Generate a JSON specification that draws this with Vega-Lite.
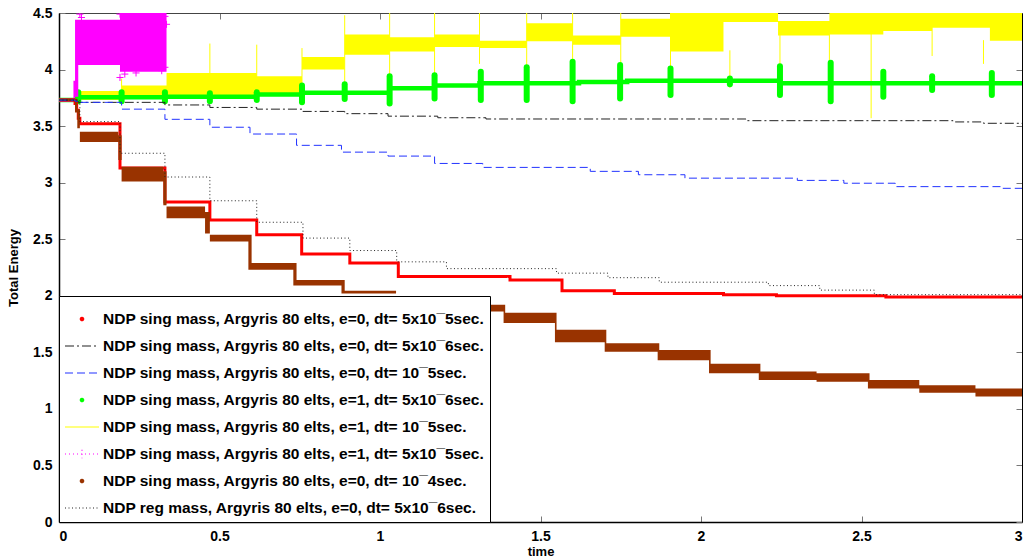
{
  "$schema": "https://vega.github.io/schema/vega-lite/v6.json",
  "width": 963,
  "height": 509,
  "autosize": {"type": "none"},
  "padding": {"left": 59, "top": 13, "right": 8, "bottom": 38},
  "background": "white",
  "config": {
    "view": {"stroke": null},
    "axis": {
      "grid": false,
      "labelFont": "Liberation Sans",
      "labelFontWeight": "bold",
      "labelFontSize": 14,
      "labelColor": "black",
      "titleFont": "Liberation Sans",
      "titleFontWeight": "bold",
      "titleFontSize": 13,
      "titleColor": "black",
      "domainColor": "black",
      "tickColor": "#777777",
      "tickSize": -6,
      "labelPadding": 13
    }
  },
  "datasets": {
    "lines": [
      {"s": "A", "x": 0, "y": 3.73}, {"s": "A", "x": 0.05, "y": 3.70}, {"s": "A", "x": 0.055, "y": 3.64}, {"s": "A", "x": 0.06, "y": 3.57}, {"s": "A", "x": 0.065, "y": 3.52},
      {"s": "A", "x": 0.19, "y": 3.13}, {"s": "A", "x": 0.33, "y": 2.83}, {"s": "A", "x": 0.47, "y": 2.67}, {"s": "A", "x": 0.616, "y": 2.54}, {"s": "A", "x": 0.756, "y": 2.37},
      {"s": "A", "x": 0.906, "y": 2.29}, {"s": "A", "x": 1.057, "y": 2.17}, {"s": "A", "x": 1.405, "y": 2.14}, {"s": "A", "x": 1.567, "y": 2.045}, {"s": "A", "x": 1.73, "y": 2.02},
      {"s": "A", "x": 2.07, "y": 2.01}, {"s": "A", "x": 2.235, "y": 2.0}, {"s": "A", "x": 2.576, "y": 1.99}, {"s": "A", "x": 3, "y": 1.985},

      {"s": "B", "x": 0, "y": 3.73}, {"s": "B", "x": 0.05, "y": 3.72}, {"s": "B", "x": 0.06, "y": 3.71}, {"s": "B", "x": 0.33, "y": 3.687}, {"s": "B", "x": 0.47, "y": 3.665},
      {"s": "B", "x": 0.616, "y": 3.65}, {"s": "B", "x": 0.757, "y": 3.63}, {"s": "B", "x": 0.89, "y": 3.61}, {"s": "B", "x": 1.025, "y": 3.588}, {"s": "B", "x": 1.18, "y": 3.574},
      {"s": "B", "x": 1.33, "y": 3.563}, {"s": "B", "x": 2.14, "y": 3.548}, {"s": "B", "x": 2.785, "y": 3.537}, {"s": "B", "x": 2.88, "y": 3.525}, {"s": "B", "x": 3, "y": 3.522},

      {"s": "C", "x": 0, "y": 3.73}, {"s": "C", "x": 0.05, "y": 3.72}, {"s": "C", "x": 0.06, "y": 3.71}, {"s": "C", "x": 0.195, "y": 3.65}, {"s": "C", "x": 0.33, "y": 3.56},
      {"s": "C", "x": 0.47, "y": 3.49}, {"s": "C", "x": 0.595, "y": 3.43}, {"s": "C", "x": 0.74, "y": 3.33}, {"s": "C", "x": 0.88, "y": 3.27}, {"s": "C", "x": 1.025, "y": 3.235},
      {"s": "C", "x": 1.17, "y": 3.17}, {"s": "C", "x": 1.32, "y": 3.135}, {"s": "C", "x": 1.655, "y": 3.10}, {"s": "C", "x": 1.805, "y": 3.07}, {"s": "C", "x": 1.95, "y": 3.04},
      {"s": "C", "x": 2.30, "y": 3.02}, {"s": "C", "x": 2.445, "y": 2.995}, {"s": "C", "x": 2.605, "y": 2.965}, {"s": "C", "x": 2.94, "y": 2.95}, {"s": "C", "x": 3, "y": 2.95},

      {"s": "D", "x": 0, "y": 3.73}, {"s": "D", "x": 0.055, "y": 3.755}, {"s": "D", "x": 0.33, "y": 3.76}, {"s": "D", "x": 0.616, "y": 3.78}, {"s": "D", "x": 0.757, "y": 3.795},
      {"s": "D", "x": 1.03, "y": 3.835}, {"s": "D", "x": 1.17, "y": 3.86}, {"s": "D", "x": 1.31, "y": 3.88}, {"s": "D", "x": 1.62, "y": 3.89}, {"s": "D", "x": 1.77, "y": 3.90},
      {"s": "D", "x": 2.246, "y": 3.88}, {"s": "D", "x": 3, "y": 3.875},

      {"s": "H", "x": 0, "y": 3.73}, {"s": "H", "x": 0.05, "y": 3.73}, {"s": "H", "x": 0.065, "y": 3.54}, {"s": "H", "x": 0.19, "y": 3.26}, {"s": "H", "x": 0.33, "y": 3.05},
      {"s": "H", "x": 0.47, "y": 2.84}, {"s": "H", "x": 0.616, "y": 2.65}, {"s": "H", "x": 0.76, "y": 2.51}, {"s": "H", "x": 0.906, "y": 2.40}, {"s": "H", "x": 1.052, "y": 2.30},
      {"s": "H", "x": 1.207, "y": 2.24}, {"s": "H", "x": 1.55, "y": 2.20}, {"s": "H", "x": 1.71, "y": 2.16}, {"s": "H", "x": 1.87, "y": 2.12}, {"s": "H", "x": 2.21, "y": 2.09},
      {"s": "H", "x": 2.37, "y": 2.05}, {"s": "H", "x": 2.54, "y": 2.01}, {"s": "H", "x": 3, "y": 1.99}
    ],
    "bands": [
      {"s": "E", "x": 0, "y": 3.72, "hi": 3.745}, {"s": "E", "x": 0.055, "y": 3.73, "hi": 3.81}, {"s": "E", "x": 0.195, "y": 3.765, "hi": 3.86}, {"s": "E", "x": 0.335, "y": 3.775, "hi": 3.97},
      {"s": "E", "x": 0.47, "y": 3.775, "hi": 3.97}, {"s": "E", "x": 0.616, "y": 3.78, "hi": 3.94}, {"s": "E", "x": 0.757, "y": 4.0, "hi": 4.11}, {"s": "E", "x": 0.89, "y": 4.13, "hi": 4.31},
      {"s": "E", "x": 1.03, "y": 4.16, "hi": 4.285}, {"s": "E", "x": 1.17, "y": 4.20, "hi": 4.31}, {"s": "E", "x": 1.31, "y": 4.19, "hi": 4.255}, {"s": "E", "x": 1.457, "y": 4.25, "hi": 4.41},
      {"s": "E", "x": 1.60, "y": 4.22, "hi": 4.30}, {"s": "E", "x": 1.75, "y": 4.29, "hi": 4.45}, {"s": "E", "x": 1.905, "y": 4.16, "hi": 4.6}, {"s": "E", "x": 2.07, "y": 4.42, "hi": 4.6},
      {"s": "E", "x": 2.24, "y": 4.30, "hi": 4.43}, {"s": "E", "x": 2.40, "y": 4.31, "hi": 4.6}, {"s": "E", "x": 2.568, "y": 4.34, "hi": 4.6}, {"s": "E", "x": 2.72, "y": 4.37, "hi": 4.6},
      {"s": "E", "x": 2.90, "y": 4.255, "hi": 4.6}, {"s": "E", "x": 3, "y": 4.255, "hi": 4.6},

      {"s": "F", "x": 0, "y": 3.715, "hi": 3.745}, {"s": "F", "x": 0.045, "y": 3.74, "hi": 3.9}, {"s": "F", "x": 0.05, "y": 3.76, "hi": 4.44}, {"s": "F", "x": 0.06, "y": 4.04, "hi": 4.44},
      {"s": "F", "x": 0.19, "y": 3.98, "hi": 4.6}, {"s": "F", "x": 0.335, "y": 3.98, "hi": 4.6},

      {"s": "G", "x": 0, "y": 3.72, "hi": 3.745}, {"s": "G", "x": 0.05, "y": 3.62, "hi": 3.74}, {"s": "G", "x": 0.057, "y": 3.48, "hi": 3.65}, {"s": "G", "x": 0.065, "y": 3.36, "hi": 3.45},
      {"s": "G", "x": 0.185, "y": 3.2, "hi": 3.42}, {"s": "G", "x": 0.195, "y": 3.01, "hi": 3.14}, {"s": "G", "x": 0.325, "y": 2.8, "hi": 3.1}, {"s": "G", "x": 0.335, "y": 2.685, "hi": 2.79},
      {"s": "G", "x": 0.455, "y": 2.55, "hi": 2.74}, {"s": "G", "x": 0.47, "y": 2.48, "hi": 2.54}, {"s": "G", "x": 0.59, "y": 2.23, "hi": 2.54}, {"s": "G", "x": 0.60, "y": 2.23, "hi": 2.29},
      {"s": "G", "x": 0.73, "y": 2.09, "hi": 2.29}, {"s": "G", "x": 0.74, "y": 2.09, "hi": 2.14},
      {"s": "G", "x": 0.88, "y": 2.02, "hi": 2.14}, {"s": "G", "x": 0.89, "y": 2.02, "hi": 2.045}, {"s": "G", "x": 1.05, "y": 1.95, "hi": 1.99}, {"s": "G", "x": 1.2, "y": 1.92, "hi": 1.96},
      {"s": "G", "x": 1.31, "y": 1.86, "hi": 1.92}, {"s": "G", "x": 1.385, "y": 1.76, "hi": 1.92}, {"s": "G", "x": 1.39, "y": 1.76, "hi": 1.85}, {"s": "G", "x": 1.545, "y": 1.59, "hi": 1.85},
      {"s": "G", "x": 1.55, "y": 1.59, "hi": 1.70}, {"s": "G", "x": 1.70, "y": 1.506, "hi": 1.70}, {"s": "G", "x": 1.705, "y": 1.506, "hi": 1.58}, {"s": "G", "x": 1.865, "y": 1.43, "hi": 1.58},
      {"s": "G", "x": 1.87, "y": 1.43, "hi": 1.52}, {"s": "G", "x": 2.025, "y": 1.315, "hi": 1.52}, {"s": "G", "x": 2.03, "y": 1.315, "hi": 1.40}, {"s": "G", "x": 2.18, "y": 1.255, "hi": 1.40},
      {"s": "G", "x": 2.185, "y": 1.255, "hi": 1.33}, {"s": "G", "x": 2.36, "y": 1.24, "hi": 1.315}, {"s": "G", "x": 2.52, "y": 1.18, "hi": 1.315}, {"s": "G", "x": 2.525, "y": 1.18, "hi": 1.255},
      {"s": "G", "x": 2.68, "y": 1.143, "hi": 1.21}, {"s": "G", "x": 2.855, "y": 1.11, "hi": 1.18}, {"s": "G", "x": 3, "y": 1.11, "hi": 1.18}
    ],
    "spikes": [
      {"s": "E", "x": 0.195, "y": 3.72, "hi": 3.92}, {"s": "E", "x": 0.47, "y": 3.72, "hi": 4.23}, {"s": "E", "x": 0.616, "y": 3.72, "hi": 4.22}, {"s": "E", "x": 0.757, "y": 3.73, "hi": 4.19},
      {"s": "E", "x": 0.89, "y": 3.79, "hi": 4.48}, {"s": "E", "x": 1.03, "y": 3.82, "hi": 4.6}, {"s": "E", "x": 1.17, "y": 3.94, "hi": 4.6}, {"s": "E", "x": 1.31, "y": 4.05, "hi": 4.6},
      {"s": "E", "x": 1.457, "y": 3.82, "hi": 4.6}, {"s": "E", "x": 1.60, "y": 3.94, "hi": 4.6}, {"s": "E", "x": 1.75, "y": 3.88, "hi": 4.6}, {"s": "E", "x": 1.905, "y": 3.94, "hi": 4.6},
      {"s": "E", "x": 2.09, "y": 3.84, "hi": 4.17}, {"s": "E", "x": 2.246, "y": 3.93, "hi": 4.4}, {"s": "E", "x": 2.40, "y": 3.93, "hi": 4.4}, {"s": "E", "x": 2.53, "y": 3.57, "hi": 4.33},
      {"s": "E", "x": 2.72, "y": 4.12, "hi": 4.4}, {"s": "E", "x": 2.88, "y": 4.05, "hi": 4.26},

      {"s": "D", "x": 0.06, "y": 3.72, "hi": 3.80}, {"s": "D", "x": 0.195, "y": 3.72, "hi": 3.80}, {"s": "D", "x": 0.33, "y": 3.72, "hi": 3.80}, {"s": "D", "x": 0.47, "y": 3.72, "hi": 3.79},
      {"s": "D", "x": 0.616, "y": 3.73, "hi": 3.80}, {"s": "D", "x": 0.757, "y": 3.71, "hi": 3.86}, {"s": "D", "x": 0.89, "y": 3.74, "hi": 3.87}, {"s": "D", "x": 1.03, "y": 3.70, "hi": 3.94},
      {"s": "D", "x": 1.17, "y": 3.745, "hi": 3.95}, {"s": "D", "x": 1.314, "y": 3.73, "hi": 3.98}, {"s": "D", "x": 1.457, "y": 3.73, "hi": 4.02}, {"s": "D", "x": 1.60, "y": 3.72, "hi": 4.07},
      {"s": "D", "x": 1.748, "y": 3.745, "hi": 4.04}, {"s": "D", "x": 1.905, "y": 3.775, "hi": 4.01}, {"s": "D", "x": 2.09, "y": 3.87, "hi": 3.92}, {"s": "D", "x": 2.246, "y": 3.775, "hi": 4.03},
      {"s": "D", "x": 2.404, "y": 3.72, "hi": 4.06}, {"s": "D", "x": 2.568, "y": 3.76, "hi": 3.98}, {"s": "D", "x": 2.72, "y": 3.82, "hi": 3.94}, {"s": "D", "x": 2.906, "y": 3.775, "hi": 3.97}
    ],
    "pts": [
      {"s": "F", "x": 0.065, "y": 4.49}, {"s": "F", "x": 0.19, "y": 4.49}, {"s": "F", "x": 0.19, "y": 3.93}, {"s": "F", "x": 0.24, "y": 3.97},
      {"s": "F", "x": 0.33, "y": 4.47}, {"s": "F", "x": 0.335, "y": 4.40}, {"s": "F", "x": 0.32, "y": 3.99}, {"s": "F", "x": 0.07, "y": 4.46},
      {"s": "F", "x": 0.205, "y": 3.96}, {"s": "F", "x": 0.33, "y": 4.02}
    ]
  },
  "layer": [
    {
      "data": {"name": "bands"},
      "transform": [{"filter": "datum.s == 'E'"}],
      "mark": {"type": "area", "interpolate": "step-after", "clip": true, "opacity": 1},
      "encoding": {
        "x": {"field": "x", "type": "quantitative", "scale": {"domain": [0, 3], "nice": false, "zero": false},
              "axis": {"orient": "bottom", "values": [0, 0.5, 1, 1.5, 2, 2.5, 3], "format": "~g", "title": "time", "titlePadding": 2, "domainWidth": 1.5}},
        "y": {"field": "y", "type": "quantitative", "scale": {"domain": [0, 4.5], "nice": false, "zero": false},
              "axis": {"orient": "left", "values": [0, 0.5, 1, 1.5, 2, 2.5, 3, 3.5, 4, 4.5], "format": "~g", "title": "Total Energy", "titlePadding": 12, "domainWidth": 1.5}},
        "y2": {"field": "hi"},
        "color": {
          "field": "s", "type": "nominal",
          "scale": {"domain": ["A", "B", "C", "D", "E", "F", "G", "H"],
                    "range": ["#ff0000", "#222222", "#2233ff", "#00ff00", "#ffff00", "#ff00ff", "#993300", "#222222"]},
          "legend": {
            "title": null,
            "orient": "bottom-left",
            "offset": 0,
            "fillColor": "white",
            "strokeColor": "black",
            "padding": 5,
            "labelFont": "Liberation Sans",
            "labelFontWeight": "bold",
            "labelFontSize": 15.5,
            "labelColor": "black",
            "labelLimit": 600,
            "symbolSize": 1156,
            "symbolStrokeWidth": 1.2,
            "symbolOpacity": 1,
            "symbolOffset": 0,
            "labelOffset": 3,
            "rowPadding": 0,
            "labelExpr": "datum.value == 'A' ? 'NDP sing mass, Argyris 80 elts, e=0, dt= 5x10¯5sec.' : datum.value == 'B' ? 'NDP sing mass, Argyris 80 elts, e=0, dt= 5x10¯6sec.' : datum.value == 'C' ? 'NDP sing mass, Argyris 80 elts, e=0, dt= 10¯5sec.' : datum.value == 'D' ? 'NDP sing mass, Argyris 80 elts, e=1, dt= 5x10¯6sec.' : datum.value == 'E' ? 'NDP sing mass, Argyris 80 elts, e=1, dt= 10¯5sec.' : datum.value == 'F' ? 'NDP sing mass, Argyris 80 elts, e=1, dt= 5x10¯5sec.' : datum.value == 'G' ? 'NDP sing mass, Argyris 80 elts, e=0, dt= 10¯4sec.' : 'NDP reg mass, Argyris 80 elts, e=0, dt= 5x10¯6sec.'"
          }
        }
      }
    },
    {
      "data": {"name": "spikes"},
      "transform": [{"filter": "datum.s == 'E'"}],
      "mark": {"type": "rule", "clip": true, "strokeWidth": 1},
      "encoding": {
        "x": {"field": "x", "type": "quantitative", "scale": {"domain": [0, 3], "nice": false, "zero": false}, "axis": null},
        "y": {"field": "y", "type": "quantitative", "scale": {"domain": [0, 4.5], "nice": false, "zero": false}, "axis": null},
        "y2": {"field": "hi"},
        "color": {"field": "s", "type": "nominal"}
      }
    },
    {
      "data": {"name": "lines"},
      "transform": [{"filter": "datum.s == 'D'"}],
      "mark": {"type": "line", "interpolate": "step-after", "strokeWidth": 4.5, "clip": true},
      "encoding": {
        "x": {"field": "x", "type": "quantitative", "scale": {"domain": [0, 3], "nice": false, "zero": false}, "axis": null},
        "y": {"field": "y", "type": "quantitative", "scale": {"domain": [0, 4.5], "nice": false, "zero": false}, "axis": null},
        "color": {"field": "s", "type": "nominal"},
        "strokeDash": {"field": "s", "type": "nominal",
                       "scale": {"domain": ["A", "B", "C", "D", "E", "F", "G", "H"],
                                 "range": [[1, 0], [9, 3, 2, 3], [8, 4], [1, 0], [1, 0], [1, 3], [1, 0], [1, 2.5]]}}
      }
    },
    {
      "data": {"name": "spikes"},
      "transform": [{"filter": "datum.s == 'D'"}],
      "mark": {"type": "rule", "clip": true, "strokeWidth": 6, "strokeCap": "round"},
      "encoding": {
        "x": {"field": "x", "type": "quantitative", "scale": {"domain": [0, 3], "nice": false, "zero": false}, "axis": null},
        "y": {"field": "y", "type": "quantitative", "scale": {"domain": [0, 4.5], "nice": false, "zero": false}, "axis": null},
        "y2": {"field": "hi"},
        "color": {"field": "s", "type": "nominal"}
      }
    },
    {
      "data": {"name": "bands"},
      "transform": [{"filter": "datum.s == 'F'"}],
      "mark": {"type": "area", "interpolate": "step-after", "clip": true},
      "encoding": {
        "x": {"field": "x", "type": "quantitative", "scale": {"domain": [0, 3], "nice": false, "zero": false}, "axis": null},
        "y": {"field": "y", "type": "quantitative", "scale": {"domain": [0, 4.5], "nice": false, "zero": false}, "axis": null},
        "y2": {"field": "hi"},
        "color": {"field": "s", "type": "nominal"}
      }
    },
    {
      "data": {"name": "pts"},
      "mark": {"type": "point", "shape": "M-1,0L1,0M0,-1L0,1", "filled": false, "size": 50, "strokeWidth": 1, "opacity": 1, "clip": true},
      "encoding": {
        "x": {"field": "x", "type": "quantitative", "scale": {"domain": [0, 3], "nice": false, "zero": false}, "axis": null},
        "y": {"field": "y", "type": "quantitative", "scale": {"domain": [0, 4.5], "nice": false, "zero": false}, "axis": null},
        "color": {"field": "s", "type": "nominal"}
      }
    },
    {
      "data": {"name": "pts"},
      "transform": [{"filter": "datum.s == 'Z'"}],
      "mark": {"type": "point", "filled": true, "opacity": 1, "clip": true},
      "encoding": {
        "x": {"field": "x", "type": "quantitative", "scale": {"domain": [0, 3], "nice": false, "zero": false}, "axis": null},
        "y": {"field": "y", "type": "quantitative", "scale": {"domain": [0, 4.5], "nice": false, "zero": false}, "axis": null},
        "color": {"field": "s", "type": "nominal"},
        "shape": {"field": "s", "type": "nominal",
                  "scale": {"domain": ["A", "B", "C", "D", "E", "F", "G", "H"],
                            "range": ["M-0.1,0A0.1,0.1,0,1,0,0.1,0A0.1,0.1,0,1,0,-0.1,0Z", "M-1,0L1,0", "M-1,0L1,0", "M-0.1,0A0.1,0.1,0,1,0,0.1,0A0.1,0.1,0,1,0,-0.1,0Z", "M-1,0L1,0", "M-1,0L1,0M0,-0.25L0,0.25", "M-0.1,0A0.1,0.1,0,1,0,0.1,0A0.1,0.1,0,1,0,-0.1,0Z", "M-1,0L1,0"]}}
      }
    },
    {
      "data": {"name": "lines"},
      "transform": [{"filter": "datum.s == 'A'"}],
      "mark": {"type": "line", "interpolate": "step-after", "strokeWidth": 3, "clip": true},
      "encoding": {
        "x": {"field": "x", "type": "quantitative", "scale": {"domain": [0, 3], "nice": false, "zero": false}, "axis": null},
        "y": {"field": "y", "type": "quantitative", "scale": {"domain": [0, 4.5], "nice": false, "zero": false}, "axis": null},
        "color": {"field": "s", "type": "nominal"},
        "strokeDash": {"field": "s", "type": "nominal"}
      }
    },
    {
      "data": {"name": "bands"},
      "transform": [{"filter": "datum.s == 'G'"}],
      "mark": {"type": "area", "interpolate": "step-after", "clip": true},
      "encoding": {
        "x": {"field": "x", "type": "quantitative", "scale": {"domain": [0, 3], "nice": false, "zero": false}, "axis": null},
        "y": {"field": "y", "type": "quantitative", "scale": {"domain": [0, 4.5], "nice": false, "zero": false}, "axis": null},
        "y2": {"field": "hi"},
        "color": {"field": "s", "type": "nominal"}
      }
    },
    {
      "data": {"name": "lines"},
      "transform": [{"filter": "datum.s == 'B' || datum.s == 'C'"}],
      "mark": {"type": "line", "interpolate": "step-after", "strokeWidth": 1, "clip": true},
      "encoding": {
        "x": {"field": "x", "type": "quantitative", "scale": {"domain": [0, 3], "nice": false, "zero": false}, "axis": null},
        "y": {"field": "y", "type": "quantitative", "scale": {"domain": [0, 4.5], "nice": false, "zero": false}, "axis": null},
        "color": {"field": "s", "type": "nominal"},
        "strokeDash": {"field": "s", "type": "nominal"}
      }
    },
    {
      "data": {"name": "lines"},
      "transform": [{"filter": "datum.s == 'H'"}],
      "mark": {"type": "line", "interpolate": "step-after", "strokeWidth": 1, "clip": true},
      "encoding": {
        "x": {"field": "x", "type": "quantitative", "scale": {"domain": [0, 3], "nice": false, "zero": false},
              "axis": {"orient": "top", "values": [0, 0.5, 1, 1.5, 2, 2.5, 3], "labels": false, "title": null, "domainColor": "#444444"}},
        "y": {"field": "y", "type": "quantitative", "scale": {"domain": [0, 4.5], "nice": false, "zero": false},
              "axis": {"orient": "right", "values": [0, 0.5, 1, 1.5, 2, 2.5, 3, 3.5, 4, 4.5], "labels": false, "title": null}},
        "color": {"field": "s", "type": "nominal"},
        "strokeDash": {"field": "s", "type": "nominal"}
      }
    }
  ],
  "resolve": {"axis": {"x": "independent", "y": "independent"}}
}
